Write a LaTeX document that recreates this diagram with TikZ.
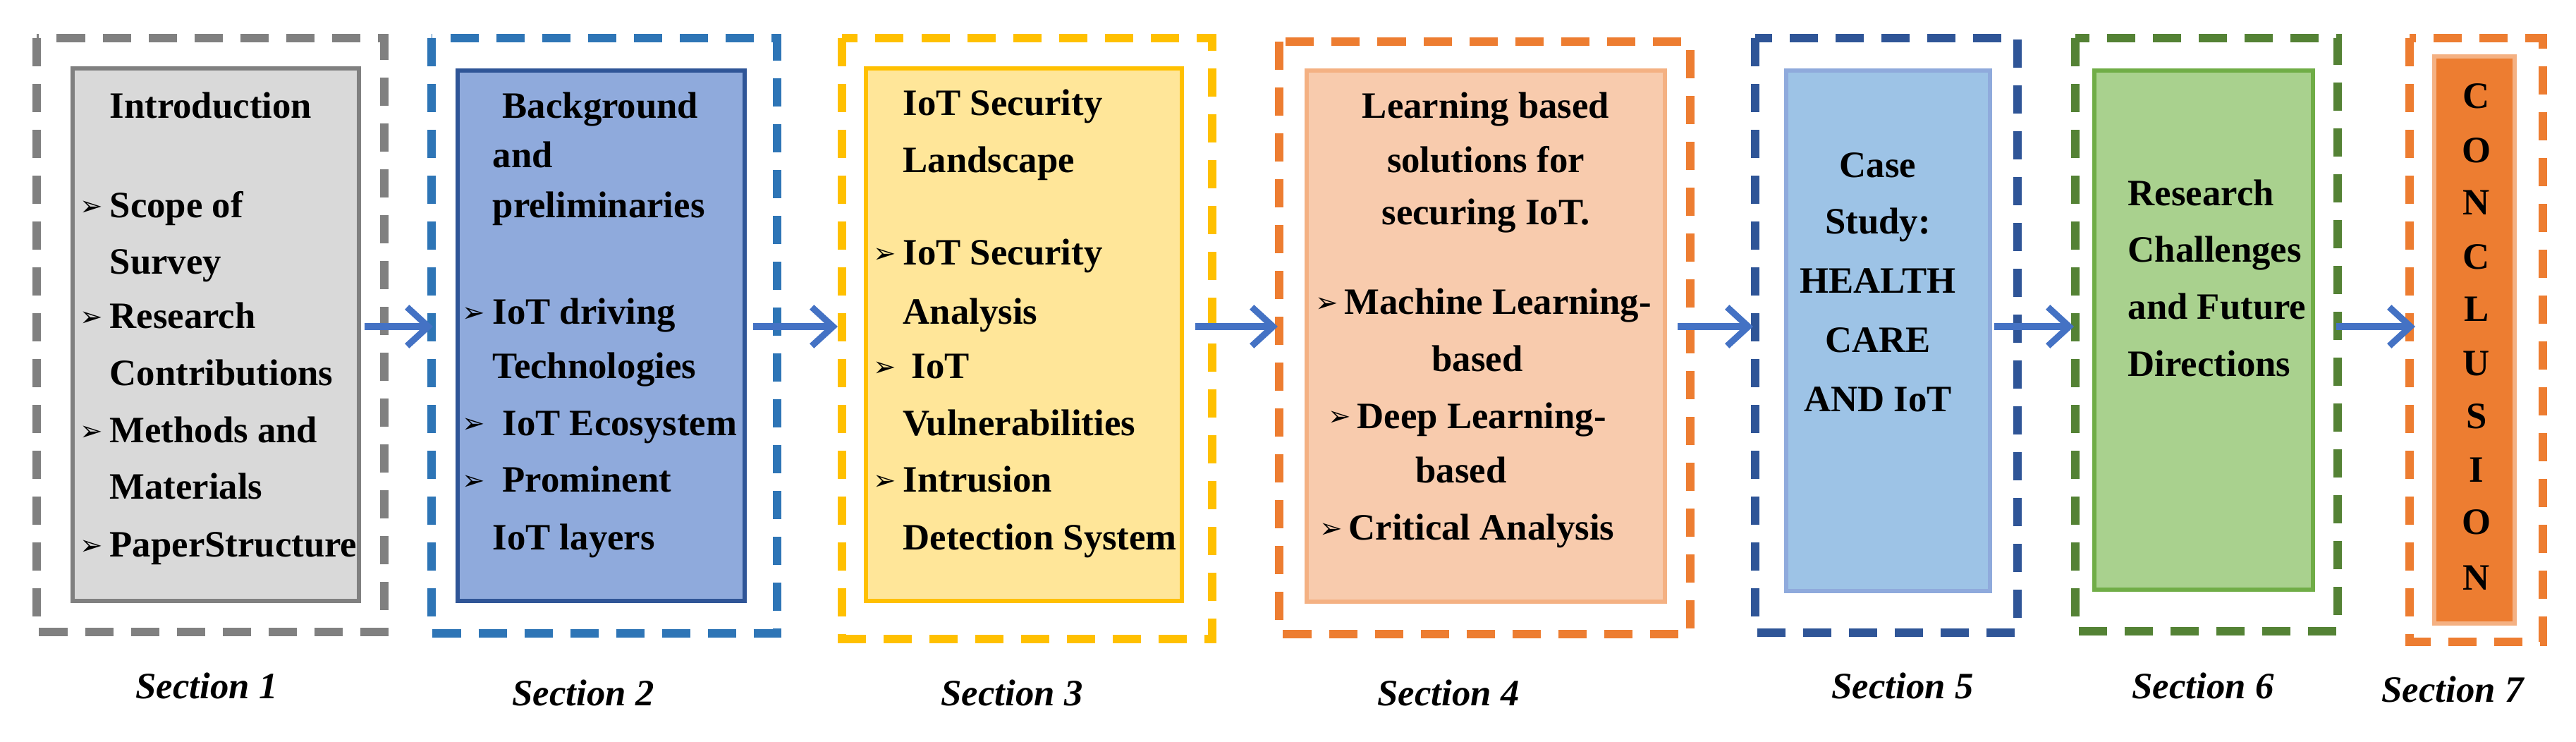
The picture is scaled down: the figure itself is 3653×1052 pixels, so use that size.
\documentclass[tikz,border=0pt]{standalone}
\usepackage{fontspec}
\setmainfont{Liberation Serif}
\newfontfamily\djv{DejaVu Sans}
\usetikzlibrary{arrows.meta}
\definecolor{cgray}{HTML}{808080}\definecolor{fgray}{HTML}{D9D9D9}
\definecolor{cblue}{HTML}{2E75B6}\definecolor{fblue}{HTML}{8FAADC}\definecolor{bblue}{HTML}{2F5597}
\definecolor{cyel}{HTML}{FFC000}\definecolor{fyel}{HTML}{FFE699}
\definecolor{cora}{HTML}{ED7D31}\definecolor{fora}{HTML}{F8CBAD}\definecolor{bora}{HTML}{F4B183}
\definecolor{fsky}{HTML}{9DC3E6}
\definecolor{cgrn}{HTML}{548235}\definecolor{fgrn}{HTML}{A9D18E}\definecolor{bgrn}{HTML}{70AD47}
\definecolor{carr}{HTML}{4472C4}
\newcommand{\bul}{{\djv\fontsize{11}{11}\selectfont ➢}}
\begin{document}
\begin{tikzpicture}[x=0.01cm,y=-0.01cm,
  outer/.style={line width=3.3pt,dash pattern=on 0.4cm off 0.25cm},
  inner/.style={line width=1.8pt},
  t/.style={anchor=base west,inner sep=0,font=\fontsize{15}{15}\selectfont\bfseries},
  tc/.style={anchor=base,inner sep=0,font=\fontsize{15}{15}\selectfont\bfseries},
  b/.style={anchor=base west,inner sep=0},
  sec/.style={anchor=base,inner sep=0,font=\fontsize{15}{15}\selectfont\bfseries\itshape},
  arr/.style={draw=carr,line width=2.6pt,-{Straight Barb[length=0.3cm,width=0.55cm,line width=2.6pt]}}]
\useasboundingbox (0,0) rectangle (3653,1052);
% outer dashed boxes
\draw[outer,cgray] (52,54) rectangle (545,896);
\draw[outer,cblue] (612,54) rectangle (1102,898);
\draw[outer,cyel] (1194,54) rectangle (1719,906);
\draw[outer,cora] (1814,59) rectangle (2397,899);
\draw[outer,bblue] (2489,54) rectangle (2861,897);
\draw[outer,cgrn] (2943,54) rectangle (3315,895);
\draw[outer,cora] (3417,54) rectangle (3606,910);
% inner boxes
\draw[inner,draw=cgray,fill=fgray] (103,97) rectangle (509,852) coordinate (i1);
\node (b1) at (306,474) {};
\draw[inner,draw=bblue,fill=fblue] (649,100) rectangle (1056,852);
\node (b2) at (852,476) {};
\draw[inner,draw=cyel,fill=fyel] (1228,97) rectangle (1676,852);
\node (b3) at (1452,474) {};
\draw[inner,draw=bora,fill=fora] (1853,100) rectangle (2361,853);
\node (b4) at (2107,476) {};
\draw[inner,draw=fblue,fill=fsky] (2533,100) rectangle (2822,838);
\node (b5) at (2677,469) {};
\draw[inner,draw=bgrn,fill=fgrn] (2970,100) rectangle (3280,836);
\node (b6) at (3125,468) {};
\draw[inner,draw=bora,fill=cora] (3452,80) rectangle (3566,884);
\node (b7) at (3509,482) {};
% arrows
\coordinate (a1s) at (517,463); \coordinate (a1e) at (614,463);
\coordinate (a2s) at (1068,463); \coordinate (a2e) at (1188,463);
\coordinate (a3s) at (1695,463); \coordinate (a3e) at (1812,463);
\coordinate (a4s) at (2379,463); \coordinate (a4e) at (2486,463);
\coordinate (a5s) at (2828,463); \coordinate (a5e) at (2941,463);
\coordinate (a6s) at (3313,463); \coordinate (a6e) at (3425,463);
\foreach \i in {1,...,6}{\draw[arr] (a\i s) -- (a\i e);}
% box1 text
\node[t] (t11) at (155,168) {Introduction};
\foreach \y/\s/\bb in {309/Scope of/1,389/Survey/0,466/Research/1,547/Contributions/0,628/Methods and/1,708/Materials/0,789/PaperStructure/1}{
  \node[t] at (155,\y) {\s};
  \ifnum\bb=1 \node[b] at (113,\y-3) {\bul};\fi}
% box2
\node[t] at (712,168) {Background};
\node[t] at (698,238) {and};
\node[t] at (698,309) {preliminaries};
\foreach \y/\x/\s/\bb in {460/698/IoT driving/1,537/698/Technologies/0,617/712/IoT Ecosystem/1,698/712/Prominent/1,779/698/IoT layers/0}{
  \node[t] at (\x,\y) {\s};
  \ifnum\bb=1 \node[b] at (655,\y-3) {\bul};\fi}
% box3
\node[t] at (1280,164) {IoT Security};
\node[t] at (1280,245) {Landscape};
\foreach \y/\x/\s/\bb in {376/1280/IoT Security/1,460/1280/Analysis/0,537/1292/IoT/1,617/1280/Vulnerabilities/0,698/1280/Intrusion/1,779/1280/Detection System/0}{
  \node[t] at (\x,\y) {\s};
  \ifnum\bb=1 \node[b] at (1238,\y-3) {\bul};\fi}
% box4
\node[tc] at (2107,168) {Learning based};
\node[tc] at (2107,245) {solutions for};
\node[tc] at (2107,319) {securing IoT.};
\node[b] at (1865,443) {\bul}; \node[t] at (1906,446) {Machine Learning-};
\node[tc] at (2095,527) {based};
\node[b] at (1883,604) {\bul}; \node[t] at (1924,607) {Deep Learning-};
\node[tc] at (2072,685) {based};
\node[b] at (1871,762) {\bul}; \node[t] at (1912,765) {Critical Analysis};
% box5
\foreach \y/\s in {252/Case,332/Study:,416/HEALTH,500/CARE,584/AND IoT}{\node[tc] at (2663,\y) {\s};}
% box6
\foreach \y/\s in {292/Research,372/Challenges,453/and Future,534/Directions}{\node[t] at (3017,\y) {\s};}
% box7
\foreach \y/\s in {144/C,221/O,295/N,372/C,446/L,523/U,597/S,674/I,748/O,826/N}{\node[tc] at (3512,\y+10) {\s};}
% section labels
\node[sec] (s1) at (293,990) {Section 1};
\node[sec] (s2) at (827,1000) {Section 2};
\node[sec] (s3) at (1435,1000) {Section 3};
\node[sec] (s4) at (2054,1000) {Section 4};
\node[sec] (s5) at (2698,990) {Section 5};
\node[sec] (s6) at (3124,990) {Section 6};
\node[sec] (s7) at (3478,995) {Section 7};
\end{tikzpicture}
\end{document}
